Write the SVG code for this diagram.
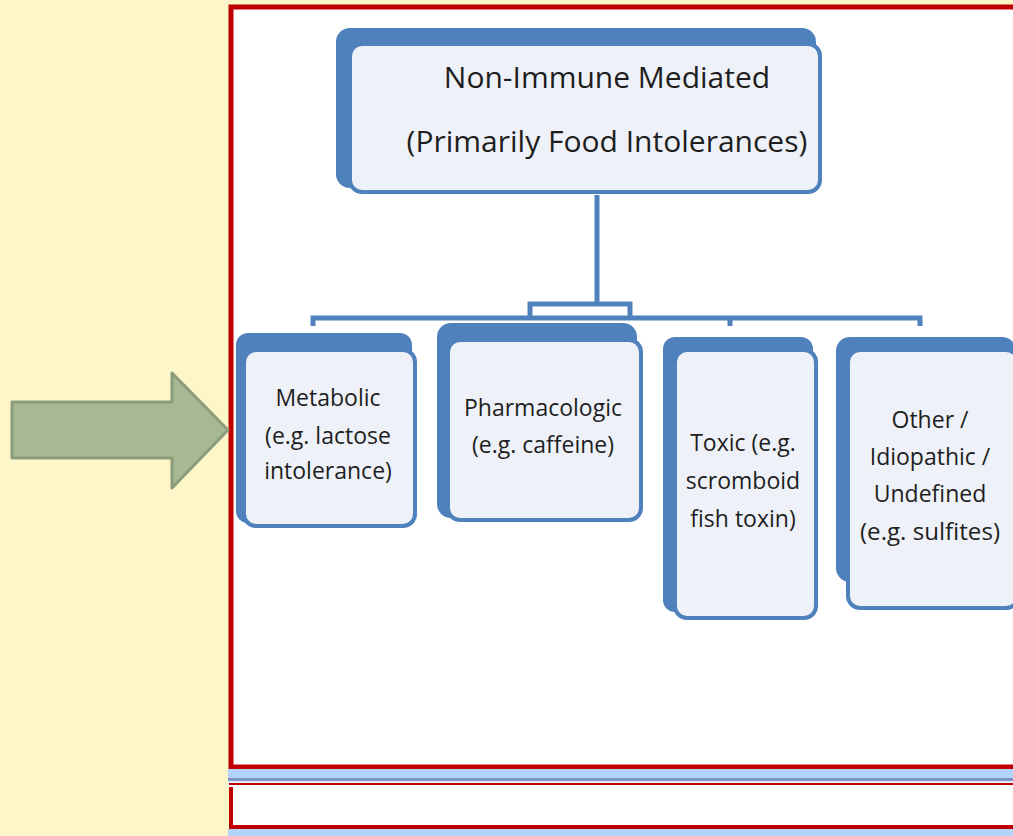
<svg xmlns="http://www.w3.org/2000/svg" width="1013" height="836" viewBox="0 0 1013 836">
<style>
.shadow{fill:#4F81BD}
.box{fill:#EEF2F8;stroke:#4F81BD;stroke-width:4}
.t{font-family:"Open Sans","Liberation Sans",sans-serif;fill:#1E1E1E;text-anchor:middle}
.big{font-size:30px}
.small{font-size:23px}
.conn{fill:none;stroke:#4F81BD;stroke-width:5}
</style>
<rect x="0" y="0" width="1013" height="836" fill="#FCF6C9"/>
<!-- main panel -->
<rect x="231" y="7" width="790" height="760" fill="#FFFFFF" stroke="#C00000" stroke-width="5"/>
<rect x="228" y="769" width="785" height="10" fill="#B3D3F8"/>
<rect x="228" y="778" width="785" height="3" fill="#7F96C4"/>
<rect x="228" y="781" width="785" height="4" fill="#E6F2FD"/>
<rect x="231" y="785" width="790" height="42" fill="#FFFFFF" stroke="#C00000" stroke-width="4"/>
<rect x="228" y="785" width="785" height="2" fill="#FFFFFF"/>
<rect x="228" y="829" width="785" height="7" fill="#B3D3F8"/>
<!-- arrow -->
<g id="arrow">
<polygon points="12,402 172,402 172,373 228,430 172,488 172,458 12,458" fill="#A8B892" stroke="#8C9C7A" stroke-width="3" stroke-linejoin="round"/>
</g>
<!-- connectors -->
<g id="connectors">
<path class="conn" d="M597,195 V306"/>
<path class="conn" d="M313,326 V318 H920 V326"/>
<path class="conn" d="M530,318 V304 H630 V318"/>
<path class="conn" d="M730,318 V326"/>
</g>
<!-- top node -->
<g id="top">
<rect class="shadow" x="336" y="28" width="480" height="160" rx="14"/>
<rect class="box" x="350" y="44" width="470" height="148" rx="12"/>
<text class="t big" x="607" y="88">Non-Immune Mediated</text>
<text class="t big" x="607" y="152">(Primarily Food Intolerances)</text>
</g>
<g id="metabolic">
<rect class="shadow" x="236" y="333" width="176" height="190" rx="12"/>
<rect class="box" x="244" y="350" width="171" height="176" rx="12"/>
<text class="t small" x="328" y="406">Metabolic</text>
<text class="t small" x="328" y="444">(e.g. lactose</text>
<text class="t small" x="328" y="479">intolerance)</text>
</g>
<g id="pharmacologic">
<rect class="shadow" x="437" y="323" width="200" height="195" rx="14"/>
<rect class="box" x="448" y="340" width="193" height="180" rx="12"/>
<text class="t small" x="543" y="416">Pharmacologic</text>
<text class="t small" x="543" y="453">(e.g. caffeine)</text>
</g>
<g id="toxic">
<rect class="shadow" x="663" y="337" width="150" height="275" rx="12"/>
<rect class="box" x="675" y="350" width="141" height="268" rx="12"/>
<text class="t small" x="743" y="451">Toxic (e.g.</text>
<text class="t small" x="743" y="489">scromboid</text>
<text class="t small" x="743" y="527">fish toxin)</text>
</g>
<g id="other">
<rect class="shadow" x="836" y="337" width="180" height="245" rx="14"/>
<rect class="box" x="848" y="350" width="170" height="258" rx="12"/>
<text class="t small" x="930" y="428">Other /</text>
<text class="t small" x="930" y="465">Idiopathic /</text>
<text class="t small" x="930" y="502">Undefined</text>
<text class="t small" x="930" y="540" textLength="140" lengthAdjust="spacingAndGlyphs">(e.g. sulfites)</text>
</g>
</svg>
